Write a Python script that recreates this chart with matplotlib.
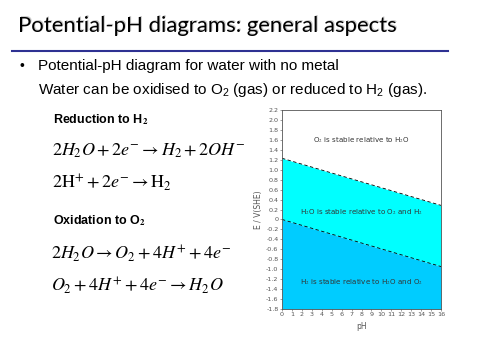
import matplotlib
matplotlib.use("Agg")
import matplotlib.pyplot as plt
import numpy as np

# 数据
ph = [0, 16]
e_o2 = [1.23, 0.283]     # O2/H2O line
e_h2 = [0.0, -0.947]     # H2O/H2 line
e_min, e_max = -1.8, 2.2
yticks = [round(-1.8 + 0.2 * i, 1) for i in range(21)]
xticks = list(range(17))

fig = plt.figure(figsize=[4.8, 3.6], dpi=100)
W, H = 480, 360

def fx(x):
    return x / W

def fy(y):
    return 1 - y / H

# title + rule
fig.text(fx(19), fy(31), "Potential-pH diagrams: general aspects", family="Lato",
         fontsize=15.9, va="baseline", color="#CCCCCC")
fig.text(fx(18), fy(32), "Potential-pH diagrams: general aspects", family="Lato",
         fontsize=15.9, va="baseline", color="black")
fig.add_artist(plt.Line2D([fx(12), fx(448)], [fy(51), fy(51)], color="#2E3192", lw=1.5))

fig.text(fx(20), fy(66), "\u2022", family="Liberation Sans", fontsize=10, va="center")
fig.text(fx(38), fy(66), "Potential-pH diagram for water with no metal",
         family="Liberation Sans", fontsize=11, va="center")
fig.text(fx(38), fy(90), "Water can be oxidised to O$_\\mathregular{2}$ (gas) or reduced to H$_\\mathregular{2}$ (gas).",
         family="Liberation Sans", fontsize=11, va="center")

# equations
plt.rcParams["mathtext.fontset"] = "stix"
fig.text(fx(53), fy(120), r"Reduction to H$_\mathbf{2}$", family="Liberation Sans",
         fontsize=9, weight="bold", va="center")
fig.text(fx(52), fy(151), r"$2H_2O + 2e^{-} \rightarrow H_2 + 2OH^{-}$", fontsize=13, va="center")
fig.text(fx(52), fy(183), r"$2\mathrm{H}^{+} + 2e^{-} \rightarrow \mathrm{H}_2$", fontsize=13, va="center")
fig.text(fx(53), fy(221), r"Oxidation to O$_\mathbf{2}$", family="Liberation Sans",
         fontsize=9, weight="bold", va="center")
fig.text(fx(51), fy(254), r"$2H_2O \rightarrow O_2 + 4H^{+} + 4e^{-}$", fontsize=13, va="center")
fig.text(fx(51), fy(286), r"$O_2 + 4H^{+} + 4e^{-} \rightarrow H_2O$", fontsize=13, va="center")

# diagram
ax = fig.add_axes([fx(282), fy(309), (441 - 282) / W, (309 - 110) / H])
ax.fill_between(ph, e_h2, e_o2, color="#00FFFF", lw=0)
ax.fill_between(ph, e_min, e_h2, color="#00CCFF", lw=0)
ax.plot(ph, e_o2, color="black", ls=(0, (4, 3)), lw=0.6)
ax.plot(ph, e_h2, color="black", ls=(0, (4, 3)), lw=0.6)
ax.set_xlim(0, 16)
ax.set_ylim(e_min, e_max)
ax.set_xticks(xticks)
ax.set_yticks(yticks)
ax.set_yticklabels(["0" if v == 0 else "%.1f" % v for v in yticks])
ax.tick_params(labelsize=4.6, length=1.5, width=0.4, pad=1, colors="#555555")
for s in ax.spines.values():
    s.set_color("#555555")
    s.set_linewidth(0.6)
ax.set_xlabel("pH", fontsize=5.5, color="#555555", labelpad=3)
ax.set_ylabel("E / V(SHE)", fontsize=5.5, color="#555555", labelpad=2)

ax.text(8, 1.6, r"O$_2$ is stable relative to H$_2$O", fontsize=5.1, color="#333333",
        ha="center", va="center")
ax.text(8, 0.15, r"H$_2$O is stable relative to O$_2$ and H$_2$", fontsize=5.1, color="#333333",
        ha="center", va="center")
ax.text(8, -1.25, r"H$_2$ is stable relative to H$_2$O and O$_2$", fontsize=5.1, color="#333333",
        ha="center", va="center")

fig.savefig("out.png", dpi=100)
